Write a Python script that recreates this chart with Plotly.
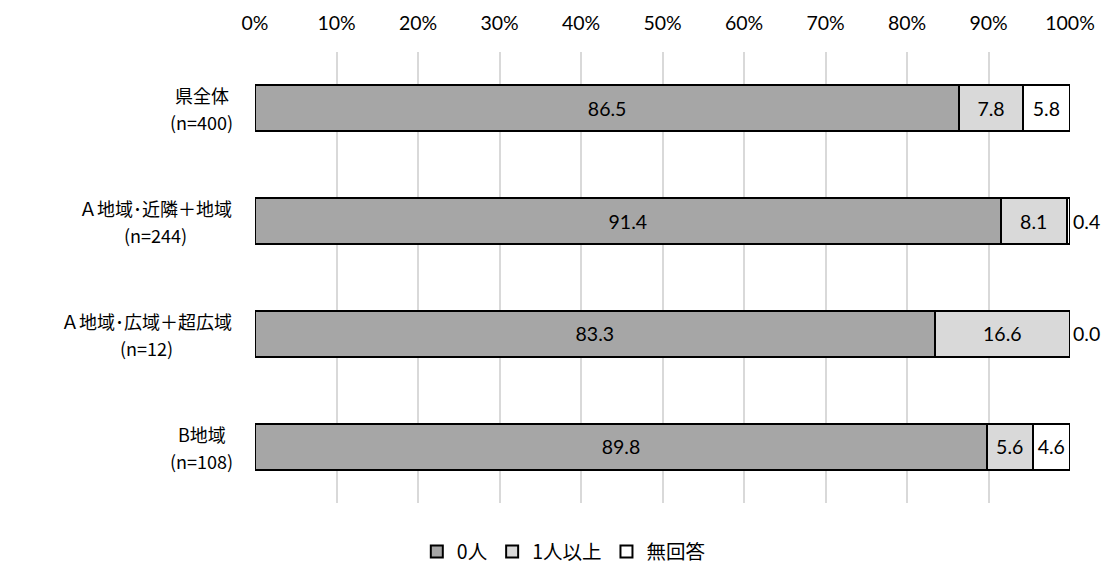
import plotly.graph_objects as go

# data
categories = ["県全体", "Ａ地域･近隣＋地域", "Ａ地域･広域＋超広域", "B地域"]
sample_sizes = ["(n=400)", "(n=244)", "(n=12)", "(n=108)"]
zero_people = [86.5, 91.4, 83.3, 89.8]
one_or_more = [7.8, 8.1, 16.6, 5.6]
no_answer = [5.8, 0.4, 0.0, 4.6]

# rough pixel width of each two-line label block (widest line), used to centre the lines
label_widths = [61, 153, 171, 61]

num_font = "Lato, 'Noto Sans', 'Noto Sans CJK JP', sans-serif"
jp_font = "'Noto Sans CJK JP', 'Noto Sans', sans-serif"

fig = go.Figure()

series = [
    ("0人", zero_people, "#A6A6A6"),
    ("1人以上", one_or_more, "#D9D9D9"),
    ("無回答", no_answer, "#FFFFFF"),
]
for name, vals, color in series:
    # small segments get their label outside the bar
    positions = ["outside" if v < 1 else "inside" for v in vals]
    fig.add_trace(go.Bar(
        y=categories, x=vals, name=name, orientation="h",
        marker=dict(color=color, line=dict(color="#000000", width=2)),
        text=[f"{v:.1f}" for v in vals],
        textposition=positions,
        insidetextanchor="middle",
        textangle=0,
        constraintext="none",
        cliponaxis=False,
        textfont=dict(family=num_font, size=19.5, color="#000000"),
        hoverinfo="x+name",
    ))

# two-line category labels, centred under each other
for cat, n, w in zip(categories, sample_sizes, label_widths):
    for txt, dy in ((cat, 13), (n, -14)):
        fig.add_annotation(
            x=0, xref="paper", xanchor="center", xshift=-23 - w / 2,
            y=cat, yref="y", yanchor="middle", yshift=dy,
            text=txt, showarrow=False, borderpad=0,
            font=dict(family=jp_font, size=18, color="#000000"),
        )

# page body has an 8px margin, so the figure is 8px smaller than the window
fig.update_layout(
    barmode="stack",
    barnorm="percent",
    bargap=0.59,
    width=1105, height=556,
    margin=dict(l=247, r=43, t=44, b=61, autoexpand=False),
    plot_bgcolor="white", paper_bgcolor="white",
    legend=dict(
        orientation="h", xref="container", x=0.503, xanchor="center",
        yref="container", y=0.022, yanchor="middle",
        font=dict(family=jp_font, size=19.5, color="#000000"),
        traceorder="normal", itemwidth=30,
    ),
    xaxis=dict(
        side="top", range=[0, 100], dtick=10, ticksuffix="%",
        showgrid=True, gridcolor="#D9D9D9", gridwidth=2,
        zeroline=False, showline=False, ticks="", tickangle=0,
        automargin=False, ticklabelstandoff=17,
        tickfont=dict(family=num_font, size=19.5, color="#000000"),
    ),
    yaxis=dict(
        autorange="reversed", showticklabels=False, showgrid=False,
        zeroline=False, showline=False, automargin=False,
    ),
)

fig.write_html("out.html")
